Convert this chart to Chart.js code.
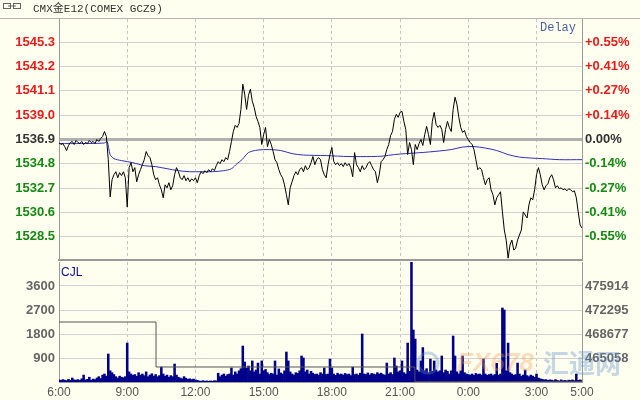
<!DOCTYPE html>
<html><head><meta charset="utf-8">
<script src="https://cdn.jsdelivr.net/npm/chart.js@4.4.1/dist/chart.umd.min.js"></script>
<style>
html,body{margin:0;padding:0;background:#fffff0;width:640px;height:400px;overflow:hidden}
#top{position:absolute;left:0;top:0;width:640px;height:261px}
#bot{position:absolute;left:0;top:261px;width:640px;height:139px}
</style></head><body>
<canvas id="top" width="640" height="261"></canvas>
<canvas id="bot" width="640" height="139"></canvas>
<script>
// ---------- data ----------
const titleText = 'CMX金E12(COMEX GCZ9)';
const delayText = 'Delay';
const volLabel = 'CJL';
const timeTicks = [0,180,360,540,720,900,1080,1260,1380];          // minutes after 6:00
const timeLabels = ['6:00','9:00','12:00','15:00','18:00','21:00','0:00','3:00','5:00'];
const priceBase = 1536.9;
const priceTicks = [1528.5,1530.6,1532.7,1534.8,1536.9,1539.0,1541.1,1543.2,1545.3];
const pctLabels = ['-0.55%','-0.41%','-0.27%','-0.14%','0.00%','+0.14%','+0.27%','+0.41%','+0.55%'];
const priceMin = 1526.5, priceMax = 1547.3;
const volTicks = [900,1800,2700,3600];
const volMax = 4500;
const oiTicks = [465058,468677,472295,475914];
const oiMin = 461439.3, oiMax = 479532.7;

// price, one value every 5 minutes from 6:00 to 5:00
const priceValues = [
1536.64,1536.47,1536.55,1536.29,1535.95,1536.38,1536.64,1536.73,1536.47,1536.81,1536.64,1536.55,1536.73,1536.47,1536.64,1536.55,1536.81,1536.64,1536.73,1536.55,1536.90,1536.73,1536.99,1537.16,1537.59,
1537.16,1535.16,1531.95,1533.43,1533.86,1534.12,1533.60,1534.04,1533.78,1534.12,1533.60,1531.08,
1534.47,1534.90,1534.12,1534.47,1533.25,1533.86,1534.30,1534.73,1535.16,1535.86,1535.51,1535.34,1534.73,
1533.86,1533.43,1533.60,1532.99,1532.56,1531.87,1532.99,1532.73,1533.17,1532.56,
1532.91,1533.86,1534.47,1534.12,1533.60,1533.43,1533.78,1533.34,1533.60,1533.25,
1533.51,1533.34,1533.60,1533.17,1533.78,1534.12,1533.95,1534.21,1534.04,1534.30,
1534.12,1534.38,1534.21,1534.64,1534.99,1534.82,1535.16,1534.99,1535.34,1535.16,
1535.86,1536.73,1537.59,1538.12,1537.94,1538.29,1539.50,1541.67,1540.81,1539.50,
1540.72,1541.24,1540.20,1539.68,1538.90,1538.46,1537.94,1536.47,1537.33,1537.94,
1536.29,1536.90,1536.47,1535.86,1535.16,1534.90,1534.30,1533.86,1533.60,1532.99,
1532.13,1531.26,1532.73,1533.25,1533.78,1534.12,1533.86,1534.30,1534.47,1534.12,
1534.64,1534.30,1534.47,1534.90,1535.43,1534.73,1535.16,1535.34,1535.16,1534.30,
1533.86,1533.60,1534.73,1535.60,1536.21,1535.00,1534.73,1534.90,1534.64,1534.82,
1534.56,1534.90,1534.64,1534.82,1534.47,1533.69,1535.77,1534.73,1534.47,1534.12,
1534.64,1534.30,1534.47,1534.82,1534.99,1534.64,1534.30,1534.12,1533.17,1533.86,
1534.99,1535.16,1535.43,1536.03,1536.47,1537.25,1537.59,1538.64,1539.07,1538.81,
1539.24,1539.33,1538.46,1537.77,1535.60,1536.64,1536.03,1534.73,1536.47,1536.03,
1536.55,1536.90,1536.38,1537.33,1538.03,1537.33,1536.47,1538.46,1539.24,1538.20,
1537.94,1538.12,1537.77,1536.64,1537.77,1538.46,1537.94,1537.59,1539.50,1540.55,
1539.94,1538.81,1537.94,1537.51,1537.68,1537.16,1536.90,1536.64,1536.47,1536.03,
1535.16,1534.30,1534.47,1534.30,1533.60,1532.99,1533.43,1533.60,1532.56,1532.13,
1531.26,1531.87,1532.13,1532.39,1530.65,1529.09,1528.22,1526.66,1527.79,1528.22,
1527.35,1527.53,1528.22,1528.66,1529.09,1530.65,1530.39,1530.13,1531.26,1531.87,
1531.69,1532.56,1533.86,1534.47,1533.86,1532.99,1532.56,1532.91,1533.08,1533.60,
1533.86,1533.43,1532.73,1532.91,1532.65,1532.73,1532.56,1532.65,1532.47,1532.65,
1532.56,1532.39,1532.47,1531.87,1530.65,1529.52,1529.26
];

// average price line
const avgTimes = [0,60,120,127,135,145,165,195,225,255,285,315,345,375,405,435,455,470,483,500,525,555,585,615,645,705,765,825,855,885,915,975,1035,1065,1095,1125,1155,1185,1215,1245,1275,1320,1380];
const avgValues = [1536.55,1536.55,1536.60,1536.73,1535.60,1535.25,1535.08,1534.90,1534.64,1534.56,1534.38,1534.21,1534.12,1534.12,1534.12,1534.21,1534.38,1534.82,1535.16,1535.77,1535.99,1536.03,1535.95,1535.68,1535.56,1535.51,1535.43,1535.43,1535.47,1535.60,1535.68,1535.82,1536.03,1536.25,1536.29,1536.16,1535.95,1535.60,1535.38,1535.30,1535.25,1535.16,1535.16];

// volume, one bar every 5 minutes
const volValues = [
80,60,90,70,50,100,60,150,80,70,
90,60,120,260,80,100,180,70,110,90,
150,200,130,260,300,220,1050,420,350,280,
200,150,220,180,160,200,1460,380,300,250,
280,220,350,260,300,240,380,200,260,310,
220,280,200,240,560,300,220,260,180,240,
200,675,260,180,150,120,200,140,100,120,
90,110,80,60,40,30,50,30,40,30,
40,30,50,40,330,200,260,300,220,280,
300,525,260,380,300,420,500,1350,750,520,
600,420,790,380,450,710,300,790,420,470,
350,280,330,300,790,260,490,340,300,420,
1125,790,380,300,260,350,320,420,975,900,
380,450,300,400,330,280,300,260,350,300,
525,280,300,860,525,300,250,330,280,300,
260,320,280,300,240,560,280,300,260,330,
1800,300,280,340,260,320,300,280,350,300,
330,280,260,710,300,350,280,900,600,380,
420,790,350,300,1460,400,4500,1950,1610,450,
380,790,1290,420,500,350,860,400,790,450,
380,420,975,350,450,400,300,420,1725,975,
380,300,420,975,350,300,280,260,300,250,
320,280,300,260,860,300,250,280,300,240,
280,700,260,300,2775,2700,420,1460,350,300,
250,280,710,300,220,260,450,240,200,260,
220,180,300,150,120,100,80,90,60,80,
70,50,90,60,40,80,50,60,40,70,
60,80,50,300,60,80,50
];

// open interest (step line)
const oiTimes = [0,256,939,1380];
const oiValues = [470486,463702,461480,461480];

const sampleTimes = priceValues.map((_, i) => i * 5);

// ---------- style ----------
const FONT = "'Liberation Sans', Arial, sans-serif";
const MONO = "'Liberation Mono', 'Noto Sans CJK SC', monospace";
const RED = '#f01818', GREEN = '#128a12', DARK = '#333333';
const AXIS = '#9a9a9a', GRID = '#d2d2d2', VGRID = '#c4c4c4';
const tickColor = v => v > priceBase + 1e-6 ? RED : (v < priceBase - 1e-6 ? GREEN : DARK);
const edgeClear = c => (c.tick && (c.tick.value === 0 || c.tick.value === 1380)) ? 'rgba(0,0,0,0)' : VGRID;
const setTicks = arr => s => { s.ticks = arr.map(v => ({value: v})); };
const fitW = w => s => { s.width = w; s.paddingTop = 0; s.paddingBottom = 0; };
const fitH = h => s => { s.height = h; s.paddingLeft = 0; s.paddingRight = 0; };

const topDecor = {
  id: 'topDecor',
  afterDraw(chart) {
    const ctx = chart.ctx;
    ctx.save();
    ctx.fillStyle = '#b5b5b5';
    ctx.fillRect(0, 18, 640, 1);
    // link icon
    ctx.strokeStyle = '#666'; ctx.lineWidth = 1;
    ctx.strokeRect(3.5, 3.5, 7, 5);
    ctx.strokeRect(13.5, 3.5, 7, 5);
    ctx.beginPath(); ctx.moveTo(8, 6); ctx.lineTo(16, 6); ctx.stroke();
    ctx.fillStyle = DARK;
    ctx.font = '11px ' + MONO;
    ctx.textBaseline = 'alphabetic';
    ctx.textAlign = 'left';
    ctx.fillText(titleText, 33, 12);
    ctx.fillStyle = '#4b5ea8';
    ctx.font = '12px ' + MONO;
    ctx.textAlign = 'right';
    ctx.fillText(delayText, 576, 31);
    ctx.restore();
  }
};

const botDecor = {
  id: 'botDecor',
  afterDraw(chart) {
    const ctx = chart.ctx;
    ctx.save();
    // watermark
    ctx.globalAlpha = 0.35;
    ctx.strokeStyle = '#5a8ccc'; ctx.lineWidth = 3;
    ctx.beginPath(); ctx.arc(428, 102, 10, 0, Math.PI * 2); ctx.stroke();
    ctx.font = 'bold italic 26px ' + FONT;
    ctx.fillStyle = '#f59a5a';
    ctx.textBaseline = 'middle'; ctx.textAlign = 'left';
    ctx.fillText('FX678', 457, 103);
    ctx.font = 'bold 26px "Noto Sans CJK SC", sans-serif';
    ctx.fillStyle = '#5a8ccc';
    ctx.fillText('汇通网', 543, 102);
    ctx.globalAlpha = 1;
    ctx.fillStyle = '#0a0aa0';
    ctx.font = '12px ' + FONT;
    ctx.textBaseline = 'alphabetic';
    ctx.fillText(volLabel, 61, 15);
    ctx.restore();
  }
};

// ---------- price chart ----------
new Chart(document.getElementById('top'), {
  type: 'line',
  data: {
    datasets: [
      { data: sampleTimes.map((t, i) => ({x: t, y: priceValues[i]})), borderColor: '#000', borderWidth: 1, pointRadius: 0, tension: 0, yAxisID: 'y' },
      { data: avgTimes.map((t, i) => ({x: t, y: avgValues[i]})), borderColor: '#2f2fbf', borderWidth: 1, pointRadius: 0, tension: 0.3, yAxisID: 'y' }
    ]
  },
  options: {
    responsive: false, animation: false, maintainAspectRatio: false,
    layout: { padding: { top: 19, bottom: 1, left: 0, right: 0 } },
    plugins: { legend: { display: false }, tooltip: { enabled: false }, title: { display: false } },
    scales: {
      x: {
        type: 'linear', min: 0, max: 1380, offset: false,
        afterBuildTicks: setTicks(timeTicks),
        afterFit: fitH(0),
        ticks: { display: false },
        grid: { color: edgeClear, drawTicks: false, lineWidth: 1 },
        border: { display: true, color: AXIS, width: 2, dash: [3, 3] }
      },
      y: {
        position: 'left', min: priceMin, max: priceMax,
        afterBuildTicks: setTicks(priceTicks),
        afterFit: fitW(59),
        ticks: { callback: v => v.toFixed(1), color: c => tickColor(c.tick.value), font: { family: FONT, size: 13, weight: 'bold' }, padding: 4 },
        grid: { color: c => (c.tick && c.tick.value === priceBase) ? '#b0b0b0' : GRID, lineWidth: c => (c.tick && c.tick.value === priceBase) ? 3 : 1, drawTicks: false },
        border: { color: AXIS, width: 1 }
      },
      y2: {
        position: 'right', min: priceMin, max: priceMax,
        afterBuildTicks: setTicks(priceTicks),
        afterFit: fitW(58),
        ticks: { callback: (v, i) => pctLabels[i], color: c => tickColor(c.tick.value), font: { family: FONT, size: 13, weight: 'bold' }, padding: 3 },
        grid: { display: false, drawTicks: false },
        border: { color: AXIS, width: 1 }
      }
    }
  },
  plugins: [topDecor]
});

// ---------- volume chart ----------
new Chart(document.getElementById('bot'), {
  type: 'bar',
  data: {
    datasets: [
      { type: 'line', data: oiTimes.map((t, i) => ({x: t, y: oiValues[i]})), yAxisID: 'y2', stepped: true, borderColor: '#555', borderWidth: 1, pointRadius: 0 },
      { type: 'bar', data: sampleTimes.map((t, i) => ({x: t, y: volValues[i]})), yAxisID: 'y', backgroundColor: '#00008b', borderWidth: 0, barPercentage: 1, categoryPercentage: 1 }
    ]
  },
  options: {
    responsive: false, animation: false, maintainAspectRatio: false,
    layout: { padding: { top: 1, bottom: 0, left: 0, right: 0 } },
    plugins: { legend: { display: false }, tooltip: { enabled: false } },
    scales: {
      x: {
        type: 'linear', min: 0, max: 1380, offset: false,
        afterBuildTicks: setTicks(timeTicks),
        afterFit: fitH(18),
        ticks: { callback: (v, i) => timeLabels[i], color: '#555', font: { family: FONT, size: 12 }, padding: 3, maxRotation: 0, autoSkip: false },
        grid: { offset: false, color: edgeClear, drawTicks: false, lineWidth: 1 },
        border: { display: true, color: AXIS, width: 1, dash: [3, 3] }
      },
      y: {
        position: 'left', min: 0, max: volMax,
        afterBuildTicks: setTicks(volTicks),
        afterFit: fitW(59),
        ticks: { callback: v => String(v), color: '#666', font: { family: FONT, size: 13, weight: 'bold' }, padding: 4 },
        grid: { color: GRID, drawTicks: false },
        border: { color: AXIS, width: 1 }
      },
      y2: {
        position: 'right', min: oiMin, max: oiMax,
        afterBuildTicks: setTicks(oiTicks),
        afterFit: fitW(58),
        ticks: { callback: v => String(v), color: '#666', font: { family: FONT, size: 13, weight: 'bold' }, padding: 3 },
        grid: { display: false, drawTicks: false },
        border: { color: AXIS, width: 1 }
      }
    }
  },
  plugins: [botDecor]
});
</script>
</body></html>
